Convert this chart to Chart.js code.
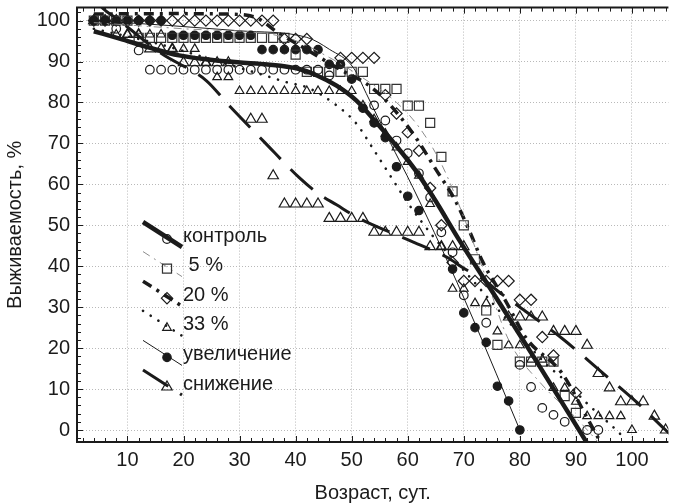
<!DOCTYPE html>
<html>
<head>
<meta charset="utf-8">
<title>Выживаемость</title>
<script src="https://cdn.jsdelivr.net/npm/chart.js@4.4.1/dist/chart.umd.min.js"></script>
<style>
  html, body { margin: 0; padding: 0; background: #fff; }
  #wrap { width: 676px; height: 503px; }
</style>
</head>
<body>
<div id="wrap"><canvas id="chart" width="676" height="503"></canvas></div>
<script>
// survival (%) by age (days) for six groups; points are observations, *Fit arrays are the smoothed curves

// контроль
const ctrlDay  = [4, 6, 8, 12, 14, 16, 18, 20, 22, 24, 26, 28, 30, 32, 34, 36, 38, 40, 42, 44, 46,
                  54, 56, 58, 60, 62, 64, 66, 68, 70, 74, 80, 82, 84, 86, 88, 92, 94];
const ctrlSurv = [100, 100, 98, 92.7, 88, 88, 88, 88, 88, 88, 88, 88, 88, 88, 88, 88, 88, 88, 88, 88, 86.6,
                  79.3, 75.6, 70.7, 67.6, 62.7, 56.8, 48.3, 43.4, 32.9, 26.2, 15.9, 10.5, 5.4, 3.7, 2, 0, 0];

// 5 %
const p5Day  = [4, 6, 8, 10, 12, 14, 16, 18, 20, 22, 24, 26, 28, 30, 32, 34, 36, 38, 40,
                42, 44, 46, 48, 50, 52, 54, 56, 58, 60, 62, 64, 66, 68, 70, 72, 74, 76, 80, 82, 84, 86, 88, 90];
const p5Surv = [100, 100, 100, 100, 95.8, 95.8, 95.8, 95.8, 95.8, 95.8, 95.8, 95.8, 95.8, 95.8, 95.8, 95.8, 95.8, 95.8, 91.7,
                87.5, 87.5, 87.5, 87.5, 87.5, 87.5, 83.3, 83.3, 83.3, 79.2, 79.2, 75, 66.7, 58.3, 50, 41.7, 29.2, 20.8,
                16.7, 16.7, 16.7, 16.7, 8.3, 4.2];

// 20 %
const p20Day  = [4, 6, 8, 10, 12, 14, 16, 18, 20, 22, 24, 26, 28, 30, 32, 34, 36, 38, 40, 42,
                 48, 50, 52, 54, 56, 58, 60, 62, 64, 66, 68, 70, 72, 74, 76, 78, 80, 82, 84, 86, 90];
const p20Surv = [100, 100, 100, 100, 100, 100, 100, 100, 100, 100, 100, 100, 100, 100, 100, 100, 100, 95.5, 95.5, 95.5,
                 90.9, 90.9, 90.9, 90.9, 81.8, 77.3, 72.7, 68.2, 59.1, 50, 40.9, 36.4, 36.4, 36.4, 36.4, 36.4,
                 31.8, 31.8, 22.7, 18.2, 9.1];

// 33 %
const p33Day  = [4, 6, 8, 10, 12, 14, 16, 18, 20, 22, 24, 26, 28, 30, 32, 34, 36, 38, 40, 42, 44, 46, 48, 50,
                 52, 54, 56, 58, 60, 62, 64, 66, 68, 70, 72, 74, 76, 78, 80, 82, 84, 86, 88, 90, 92, 94, 96, 98, 100];
const p33Surv = [100, 100, 96.6, 96.6, 96.6, 96.6, 96.6, 93.1, 93.1, 93.1, 89.7, 86.2, 86.2,
                 82.8, 82.8, 82.8, 82.8, 82.8, 82.8, 82.8, 82.8, 82.8, 82.8, 82.8,
                 79.3, 75.9, 72.4, 69, 65.5, 62.1, 55.2, 44.8, 34.5, 34.5, 31, 31, 24.1, 20.7, 20.7,
                 17.2, 17.2, 10.3, 10.3, 6.9, 3.4, 3.4, 3.4, 3.4, 0];

// увеличение
const upDay  = [4, 6, 8, 10, 12, 14, 16, 18, 20, 22, 24, 26, 28, 30, 32, 34, 36, 38, 40, 42, 44,
                46, 48, 50, 52, 54, 56, 58, 60, 62, 68, 70, 72, 74, 76, 78, 80];
const upSurv = [100, 100, 100, 100, 100, 100, 100, 96.4, 96.4, 96.4, 96.4, 96.4, 96.4, 96.4, 96.4,
                92.9, 92.9, 92.9, 92.9, 92.9, 92.9, 89.3, 89.3, 85.7, 78.6, 75, 71.4, 64.3, 57.1, 53.6,
                39.3, 28.6, 25, 21.4, 10.7, 7.1, 0];

// снижение
const downDay  = [4, 6, 8, 10, 12, 14, 16, 18, 20, 22, 24, 26, 28, 32, 34, 36, 38, 40, 42, 44,
                  46, 48, 50, 52, 54, 56, 58, 60, 62, 64, 66, 68, 70, 78, 80, 82, 84, 86, 88, 90,
                  92, 94, 96, 98, 100, 102, 104, 106];
const downSurv = [100, 100, 100, 96.6, 96.6, 93.1, 93.1, 93.1, 89.7, 89.7, 89.7, 89.7, 89.7, 75.9, 75.9, 62.1,
                  55.2, 55.2, 55.2, 55.2, 51.7, 51.7, 51.7, 51.7, 48.3, 48.3, 48.3, 48.3, 48.3,
                  44.8, 44.8, 44.8, 44.8, 27.6, 27.6, 27.6, 27.6, 24.1, 24.1, 24.1, 20.7, 13.8, 10.3,
                  6.9, 6.9, 6.9, 3.4, 0];

// smoothed curves
const ctrlFitDay  = [4, 8.6, 13.9, 19.2, 24.4, 29.7, 35, 40.3, 43.8, 47.3, 50.8, 54.4, 57.9, 61.4, 64.9, 69, 75.5, 82.5, 92];
const ctrlFitSurv = [97.4, 95.6, 93.4, 91.5, 90.5, 89.8, 89.3, 88.3, 86.6, 84.1, 80.5, 75.1, 69.5, 63.4, 56.1, 46.8, 32.9, 17.8, -3.2];

const p5FitDay  = [4, 20, 38, 46, 52, 58, 62, 66, 70, 74, 78, 84, 90, 94];
const p5FitSurv = [99.5, 98, 96, 91, 86, 80, 74, 65, 52, 37, 22, 11, 3, -3];

const p20FitDay  = [4, 18, 30, 33.3, 36.8, 40.8, 44.3, 48, 52.6, 56.1, 61.4, 64.9, 68.5, 71.1, 73.4, 77.6, 81.1, 87.5, 92, 94];
const p20FitSurv = [101.6, 101.7, 101.5, 100.5, 97.1, 93.9, 91, 88, 84.6, 80.5, 71.5, 63.9, 56, 48.3, 41, 31.2, 22.5, 13.9, 3, -2];

const p33FitDay  = [4, 15, 25, 34.5, 38.5, 42, 46.8, 50.8, 54, 57.4, 60, 65, 70, 76.7, 84.8, 87.3, 91.9, 97.2, 99];
const p33FitSurv = [98, 94.5, 90.5, 86.6, 84.9, 83.7, 79.8, 74.9, 68.3, 61, 55.5, 46.5, 39, 28.5, 15.9, 13, 6.6, 0, -2.5];

const upFitDay  = [4, 17.4, 30, 42, 46, 50.3, 52.6, 56.7, 60.9, 66, 71.5, 80];
const upFitSurv = [100, 98.8, 97.5, 95.9, 93, 88.5, 82.2, 70.7, 59.3, 44.5, 27.6, 0];

const downFitDay  = [4, 5.6, 8.1, 16, 24, 28.3, 34.3, 40.6, 44, 47.3, 50.9, 56, 61, 67, 70, 73.7, 76, 81, 87.5, 94.3, 101, 106, 107];
const downFitSurv = [106, 103, 100.5, 92, 85.4, 79, 70.5, 61.7, 57.8, 55, 52, 48.8, 45.9, 42.2, 39.5, 36.6, 34, 29, 22.4, 14.5, 6.6, 0, -1.2];

const xTicks = [10, 20, 30, 40, 50, 60, 70, 80, 90, 100];
const yTicks = [0, 10, 20, 30, 40, 50, 60, 70, 80, 90, 100];
const groupNames = ['контроль', ' 5 %', '20 %', '33 %', 'увеличение', 'снижение'];

const FONT = '"Liberation Sans", Arial, Helvetica, sans-serif';
const INK = '#1b1b1b';

function pairs(xs, ys) {
    return xs.map((x, i) => ({ x: x, y: ys[i] }));
}

function fitLine(xs, ys, width, dash, color, cap) {
    return {
        type: 'line',
        data: pairs(xs, ys),
        borderColor: color || INK,
        borderWidth: width,
        borderDash: dash,
        borderCapStyle: cap || 'butt',
        pointRadius: 0,
        fill: false,
        cubicInterpolationMode: 'monotone'
    };
}

function marks(xs, ys, style, radius, filled, color) {
    return {
        type: 'scatter',
        data: pairs(xs, ys),
        pointStyle: style,
        pointRadius: radius,
        pointHoverRadius: radius,
        pointBorderWidth: 1.2,
        pointBorderColor: color || INK,
        pointBackgroundColor: filled ? INK : 'rgba(255,255,255,0)',
        showLine: false
    };
}

// tick marks on the inside of the frame + frame lines
const axisFrame = {
    id: 'axisFrame',
    beforeDatasetsDraw(chart) {
        const { ctx, chartArea: a, scales: { x, y } } = chart;
        ctx.save();
        ctx.strokeStyle = INK;
        ctx.lineWidth = 1;
        ctx.beginPath();
        for (let v = 2; v <= 106; v += 2) {
            const px = Math.round(x.getPixelForValue(v)) + 0.5;
            const len = v % 10 === 0 ? 6 : 4;
            ctx.moveTo(px, a.bottom); ctx.lineTo(px, a.bottom - len);
            ctx.moveTo(px, a.top); ctx.lineTo(px, a.top + len);
        }
        for (let v = -2; v <= 102; v += 2) {
            const py = Math.round(y.getPixelForValue(v)) + 0.5;
            const len = v % 10 === 0 ? 6 : 4;
            ctx.moveTo(a.left, py); ctx.lineTo(a.left + len, py);
        }
        ctx.stroke();
        ctx.lineWidth = 2;
        ctx.beginPath();
        ctx.moveTo(a.right, a.top); ctx.lineTo(a.left, a.top);
        ctx.lineTo(a.left, a.bottom); ctx.lineTo(a.right, a.bottom);
        ctx.stroke();
        ctx.restore();
    }
};

// legend drawn inside the plot: slanted line sample, marker, label
const insideLegend = {
    id: 'insideLegend',
    afterDatasetsDraw(chart) {
        const ctx = chart.ctx;
        const sets = chart.data.datasets;
        for (let i = 0; i < groupNames.length; i++) {
            const cy = 236 + i * 29.6;
            const line = sets[i];
            const pts = sets[i + groupNames.length];
            ctx.save();
            ctx.strokeStyle = line.borderColor;
            ctx.lineWidth = line.borderWidth;
            ctx.lineCap = line.borderCapStyle;
            ctx.setLineDash(line.borderDash || []);
            ctx.beginPath();
            ctx.moveTo(143, cy - 14);
            ctx.lineTo(182, cy + 11);
            ctx.stroke();
            ctx.setLineDash([]);
            ctx.fillStyle = pts.pointBackgroundColor;
            ctx.strokeStyle = pts.pointBorderColor;
            ctx.lineWidth = pts.pointBorderWidth;
            Chart.helpers.drawPoint(ctx, {
                pointStyle: pts.pointStyle, radius: pts.pointRadius,
                borderWidth: pts.pointBorderWidth, rotation: 0
            }, 167, cy + 3);
            ctx.fillStyle = INK;
            ctx.font = '20px ' + FONT;
            ctx.textBaseline = 'middle';
            ctx.textAlign = 'left';
            ctx.fillText(groupNames[i], 183, cy);
            ctx.restore();
        }
    }
};

const ctx = document.getElementById('chart');
const survivalChart = new Chart(ctx, {
    data: {
        datasets: [
            fitLine(ctrlFitDay, ctrlFitSurv, 4.5, []),
            fitLine(p5FitDay, p5FitSurv, 1, [8, 5, 2, 5], '#8c8c8c'),
            fitLine(p20FitDay, p20FitSurv, 3.5, [10, 6, 3, 6]),
            fitLine(p33FitDay, p33FitSurv, 2.6, [0.1, 9], INK, 'round'),
            fitLine(upFitDay, upFitSurv, 1, []),
            fitLine(downFitDay, downFitSurv, 3, [30, 14]),
            marks(ctrlDay, ctrlSurv, 'circle', 4.3, false),
            marks(p5Day, p5Surv, 'rect', 6.4, false, '#333'),
            marks(p20Day, p20Surv, 'rectRot', 5.6, false),
            marks(p33Day, p33Surv, 'triangle', 5, false),
            marks(upDay, upSurv, 'circle', 4.2, true),
            marks(downDay, downSurv, 'triangle', 6, false)
        ]
    },
    options: {
        responsive: false,
        animation: false,
        devicePixelRatio: 1,
        layout: { padding: { top: 7, left: 0, right: 0, bottom: 0 } },
        plugins: {
            legend: { display: false },
            tooltip: { enabled: false }
        },
        scales: {
            x: {
                type: 'linear',
                min: 1,
                max: 106.5,
                afterBuildTicks(scale) {
                    scale.ticks = xTicks.map(v => ({ value: v }));
                },
                afterFit(scale) {
                    scale.height = 61;
                    scale.paddingLeft = 0;
                    scale.paddingRight = 0;
                },
                ticks: {
                    color: INK,
                    padding: 6,
                    maxRotation: 0,
                    font: { family: FONT, size: 20 }
                },
                grid: { color: '#b9b9b9', lineWidth: 1, drawTicks: false },
                border: { display: false, dash: [1, 2] },
                title: {
                    display: true,
                    text: 'Возраст, сут.',
                    color: INK,
                    font: { family: FONT, size: 20, lineHeight: 1 },
                    padding: { top: 0, bottom: 0 }
                }
            },
            y: {
                type: 'linear',
                min: -2.93,
                max: 103.17,
                afterBuildTicks(scale) {
                    scale.ticks = yTicks.map(v => ({ value: v }));
                },
                afterFit(scale) {
                    scale.width = 77;
                    scale.paddingTop = 0;
                    scale.paddingBottom = 0;
                },
                ticks: {
                    color: INK,
                    padding: 7,
                    font: { family: FONT, size: 20 }
                },
                grid: { color: '#b9b9b9', lineWidth: 1, drawTicks: false },
                border: { display: false, dash: [1, 2] },
                title: {
                    display: true,
                    text: 'Выживаемость, %',
                    color: INK,
                    font: { family: FONT, size: 20, lineHeight: 1 },
                    padding: { top: 5, bottom: 0 }
                }
            }
        }
    },
    plugins: [axisFrame, insideLegend]
});
</script>
</body>
</html>
